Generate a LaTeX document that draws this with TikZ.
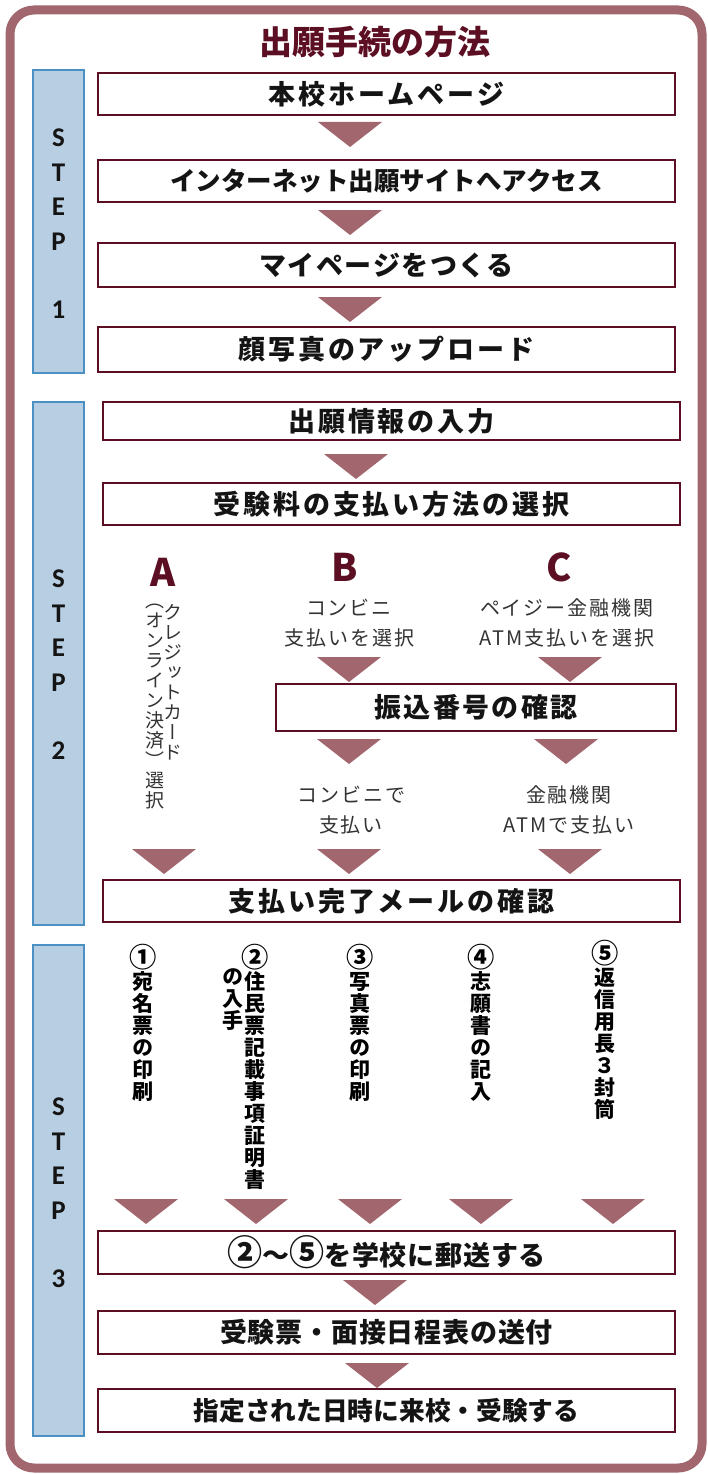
\documentclass[tikz,border=0pt]{standalone}
\usepackage{fontspec}
\setmainfont{Noto Sans CJK JP}
\newfontfamily\jp{Noto Sans CJK JP}
\newfontfamily\jpv[RawFeature=+vert]{Noto Sans CJK JP}
\newfontfamily\stepfont{Carlito}
\newcommand\boxfont[2]{\jp\bfseries\fontsize{#1}{#1}\selectfont\addfontfeature{LetterSpace=#2}}
\newcommand\circnum[1]{\scalebox{1.3}{#1}}
\definecolor{rose}{HTML}{A2666E}
\definecolor{maroon}{HTML}{5C0F22}
\definecolor{stepfill}{HTML}{B8CEE2}
\definecolor{stepline}{HTML}{4A90C2}
\definecolor{ink}{HTML}{141414}
\definecolor{grayink}{HTML}{333333}

\begin{document}
\begin{tikzpicture}[x=1pt, y=-1pt,
    box/.style 2 args={draw=maroon, line width=2.2pt, minimum width=577pt, minimum height=42pt,
      inner sep=0pt, text=ink, font=\boxfont{#1}{#2}},
    box/.default={27}{11},
    stepbar/.style={draw=stepline, line width=1.5pt, fill=stepfill, minimum width=51pt, inner sep=0pt},
    steptext/.style={align=center, text=ink, font=\stepfont\bfseries\fontsize{27}{34.5}\selectfont},
    choice/.style={text=maroon, font=\jp\bfseries\fontsize{38}{40}\selectfont},
    plain/.style={align=center, text=grayink, font=\jp\fontsize{20}{30}\selectfont\addfontfeature{LetterSpace=10}},
    vtext/.style={anchor=north, align=center, inner sep=0pt, text=grayink, font=\jpv\fontsize{19}{20}\selectfont},
    vbold/.style={anchor=north, align=center, inner sep=0pt, text=black, font=\jpv\bfseries\fontsize{21}{22}\selectfont}]
  \useasboundingbox (0,0) rectangle (707,1474);
  \draw[rose, line width=9pt, rounded corners=24pt] (10,10) rectangle (702,1468);
  \node[text=maroon, font=\jp\bfseries\fontsize{33}{36}\selectfont] (title) at (375,42) {出願手続の方法};

  % step bars
  \node[stepbar, minimum height=303pt] (step1) at (58.5,221.5) {};
  \node[stepbar, minimum height=523pt] (step2) at (58.5,663.5) {};
  \node[stepbar, minimum height=491pt] (step3) at (58.5,1190.5) {};
  \node[steptext] (step1 label) at (58.5,224) {S\\T\\E\\P\\[34pt]1};
  \node[steptext] (step2 label) at (58.5,665) {S\\T\\E\\P\\[34pt]2};
  \node[steptext] (step3 label) at (58.5,1193) {S\\T\\E\\P\\[34pt]3};

  % step 1
  \node[box] (homepage) at (386.5,94) {本校ホームページ};
  \node[box={25.5}{0}] (access) at (386.5,181) {インターネット出願サイトへアクセス};
  \node[box={27}{6}, minimum height=44pt] (mypage) at (386.5,265) {マイページをつくる};
  \node[box, minimum height=45pt] (photo) at (386.5,349.5) {顔写真のアップロード};

  % step 2
  \node[box, minimum height=38pt] (entry) at (391.5,421) {出願情報の入力};
  \node[box] (method) at (391.5,504) {受験料の支払い方法の選択};
  \node[choice] (A) at (163,572) {A};
  \node[choice] (B) at (345,567) {B};
  \node[choice] (C) at (559,567) {C};
  \node[vtext] (card) at (173,604) {ク\\レ\\ジ\\ッ\\ト\\カ\\ー\\ド};
  \node[vtext] (online) at (155,604) {（\\オ\\ン\\ラ\\イ\\ン\\決\\済\\）\\選\\択};
  \node[plain] (conbini select) at (349,623) {コンビニ\\支払いを選択};
  \node[plain] (atm select) at (567,623) {ペイジー金融機関\\ATM支払いを選択};
  \node[box={27}{9}, minimum width=400pt, minimum height=47pt] (number) at (476,707.5) {振込番号の確認};
  \node[plain] (conbini pay) at (351,810) {コンビニで\\支払い};
  \node[plain] (atm pay) at (569,810) {金融機関\\ATMで支払い};
  \node[box] (mail) at (391.5,901) {支払い完了メールの確認};

  % step 3
  \node[vbold] (label) at (143,944) {\circnum{①}\\宛\\名\\票\\の\\印\\刷};
  \node[vbold] (certificate) at (255,944) {\circnum{②}\\住\\民\\票\\記\\載\\事\\項\\証\\明\\書};
  \node[vbold] (certificate get) at (233,968) {の\\入\\手};
  \node[vbold] (photo card) at (360,944) {\circnum{③}\\写\\真\\票\\の\\印\\刷};
  \node[vbold] (form) at (481,944) {\circnum{④}\\志\\願\\書\\の\\記\\入};
  \node[vbold] (envelope) at (605,940) {\circnum{⑤}\\返\\信\\用\\長\\３\\封\\筒};
  \node[box={27}{3}, minimum height=43pt] (mailing) at (386.5,1252.5) {\circnum{②}〜\circnum{⑤}を学校に郵送する};
  \node[box={27}{3}, minimum height=43pt] (ticket) at (386.5,1332.5) {受験票・面接日程表の送付};
  \node[box={25.7}{0}, minimum height=43pt] (exam) at (386.5,1410.5) {指定された日時に来校・受験する};

  % arrow triangles
  \foreach \x/\y in {350/122, 350/210, 350/297, 356/454, 349/657, 570/657, 349/739, 566/739,
      164/849, 349/849, 570/849, 146/1199, 256/1199, 370/1199, 481/1199, 613/1199, 375/1280, 377/1363}
    \fill[rose] (\x-32,\y) -- (\x+32,\y) -- (\x,\y+25) -- cycle;
\end{tikzpicture}
\end{document}
